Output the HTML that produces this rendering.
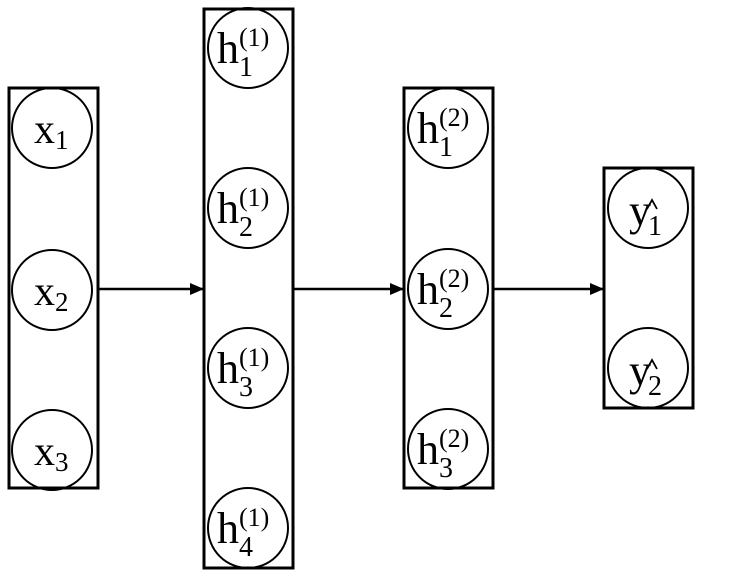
<!DOCTYPE html>
<html><head><style>body{margin:0;background:#fff}</style></head><body>
<svg width="751" height="578" xmlns="http://www.w3.org/2000/svg" font-family="Liberation Serif, serif" fill="#000">
<defs><marker id="a" markerWidth="14" markerHeight="12" refX="14" refY="6" orient="auto" markerUnits="userSpaceOnUse"><path d="M0,0 L14,6 L0,12 z"/></marker></defs>
<g fill="none" stroke="#000" stroke-width="3">
<rect x="9" y="88" width="89" height="400"/>
<rect x="204" y="9" width="89" height="559"/>
<rect x="404" y="88" width="89" height="400"/>
<rect x="604" y="168" width="89" height="240"/>
</g>
<g fill="none" stroke="#000" stroke-width="2">
<circle cx="52" cy="128" r="40"/><circle cx="52" cy="290" r="40"/><circle cx="52" cy="450" r="40"/>
<circle cx="248" cy="48" r="40"/><circle cx="248" cy="208" r="40"/><circle cx="248" cy="368" r="40"/><circle cx="248" cy="528" r="40"/>
<circle cx="448" cy="128" r="40"/><circle cx="448" cy="289" r="40"/><circle cx="448" cy="449" r="40"/>
<circle cx="648" cy="208" r="40"/><circle cx="648" cy="368" r="40"/>
</g>
<g stroke="#000" stroke-width="2.5">
<line x1="98" y1="289" x2="204" y2="289" marker-end="url(#a)"/>
<line x1="293" y1="289" x2="404" y2="289" marker-end="url(#a)"/>
<line x1="493" y1="289" x2="604" y2="289" marker-end="url(#a)"/>
</g>
<g fill="none" stroke="#000" stroke-width="1.8">
<polyline points="647,209 652,200 657,209"/>
<polyline points="647,369 652,360 657,369"/>
</g>
<g font-size="42">
<text x="34" y="143">x</text><text x="55" y="149" font-size="27">1</text>
<text x="34" y="305">x</text><text x="55" y="311" font-size="27">2</text>
<text x="34" y="465">x</text><text x="55" y="471" font-size="27">3</text>
</g>
<g font-size="44">
<text x="217" y="63">h</text><text x="239" y="76" font-size="28">1</text><text x="239" y="46" font-size="26">(1)</text>
<text x="217" y="223">h</text><text x="239" y="236" font-size="28">2</text><text x="239" y="206" font-size="26">(1)</text>
<text x="217" y="383">h</text><text x="239" y="396" font-size="28">3</text><text x="239" y="366" font-size="26">(1)</text>
<text x="217" y="543">h</text><text x="239" y="556" font-size="28">4</text><text x="239" y="526" font-size="26">(1)</text>
<text x="417" y="143">h</text><text x="439" y="156" font-size="28">1</text><text x="439" y="126" font-size="26">(2)</text>
<text x="417" y="304">h</text><text x="439" y="317" font-size="28">2</text><text x="439" y="287" font-size="26">(2)</text>
<text x="417" y="464">h</text><text x="439" y="477" font-size="28">3</text><text x="439" y="447" font-size="26">(2)</text>
<text x="629" y="225">y</text><text x="648" y="235" font-size="28">1</text>
<text x="629" y="385">y</text><text x="648" y="395" font-size="28">2</text>
</g>
</svg>
</body></html>
